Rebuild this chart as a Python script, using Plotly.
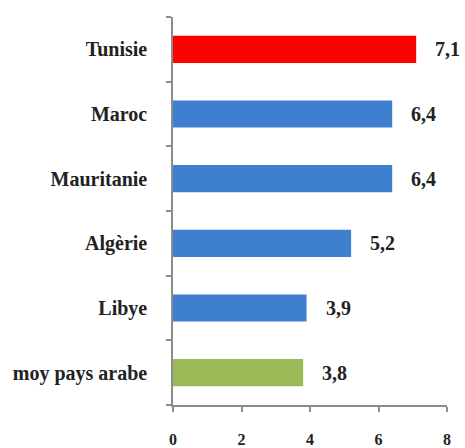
import plotly.graph_objects as go

categories = ["Tunisie", "Maroc", "Mauritanie", "Algèrie", "Libye", "moy pays arabe"]
values = [7.1, 6.4, 6.4, 5.2, 3.9, 3.8]
colors = ["#FF0000", "#3F7FCF", "#3F7FCF", "#3F7FCF", "#3F7FCF", "#9BBB59"]
x_ticks = [0, 2, 4, 6, 8]

font_family = "Liberation Serif"

fig = go.Figure()
fig.add_trace(go.Bar(
    y=categories, x=values, orientation="h",
    marker=dict(color=colors, line=dict(width=0)),
    width=0.42,
    hoverinfo="skip",
))

for c, v in zip(categories, values):
    fig.add_annotation(
        x=v, y=c, xref="x", yref="y",
        text="<b>" + f"{v:.1f}".replace(".", ",") + "</b>",
        showarrow=False, xanchor="left", xshift=17,
        font=dict(family=font_family, size=20, color="#222"),
    )

fig.update_layout(
    width=465, height=448,
    margin=dict(l=173, r=18, t=17, b=43, autoexpand=False),
    paper_bgcolor="white", plot_bgcolor="white",
    showlegend=False,
    font=dict(family=font_family, size=14, color="#222"),
)
fig.update_xaxes(
    range=[0, 8], tickvals=x_ticks, ticktext=[f"<b>{t}</b>" for t in x_ticks],
    showgrid=False, zeroline=False, automargin=False,
    showline=True, linecolor="#8C8C8C", linewidth=1.5,
    ticks="outside", ticklen=5, tickcolor="#8C8C8C", tickwidth=1.5,
    ticklabelstandoff=14,
    tickfont=dict(family=font_family, size=16, color="#222"),
)
fig.update_yaxes(
    categoryorder="array", categoryarray=categories[::-1],
    autorange=False, range=[-0.5, 5.5],
    showgrid=False, zeroline=False, automargin=False,
    showline=True, linecolor="#8C8C8C", linewidth=1.5,
    ticks="outside", tickson="boundaries", ticklen=5, tickcolor="#8C8C8C", tickwidth=1.5,
    ticklabelstandoff=20,
    ticktext=[f"<b>{c}</b>" for c in categories[::-1]], tickvals=categories[::-1],
    tickfont=dict(family=font_family, size=20, color="#222"),
)

fig.write_html("out.html", config={"displayModeBar": False},
               post_script="document.body.style.margin='0';document.body.style.overflow='hidden';")
